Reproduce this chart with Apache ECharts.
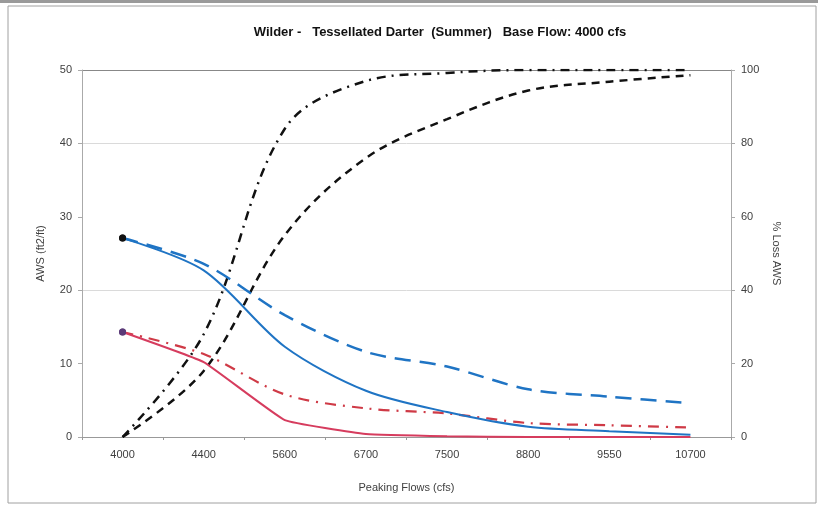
<!DOCTYPE html>
<html>
<head>
<meta charset="utf-8">
<script src="https://cdn.jsdelivr.net/npm/echarts@6/dist/echarts.min.js"></script>
<style>html,body{margin:0;padding:0;background:#fff;}#c{width:818px;height:506px;}</style>
</head>
<body>
<div id="c"></div>
<script>
var categories = ['4000','4400','5600','6700','7500','8800','9550','10700'];
var awsA = [27.1, 22.7, 12.3, 6.3, 3.4, 1.4, 0.8, 0.3];       // blue solid
var awsB = [27.1, 23.6, 16.6, 11.6, 9.6, 6.5, 5.5, 4.6];      // blue dashed
var awsC = [14.3, 10.2, 2.3, 0.4, 0.1, 0.0, 0.0, 0.0];        // red solid
var awsD = [14.3, 11.3, 5.8, 3.9, 3.2, 1.9, 1.6, 1.3];        // red dash-dot
var lossA = [0, 28, 84, 97, 99.2, 100, 100, 100];             // black dash-dot
var lossB = [0, 18, 55, 76, 86.6, 94.4, 96.8, 98.6];          // black dashed
var leftTicks = [0, 10, 20, 30, 40, 50];
var rightTicks = [0, 20, 40, 60, 80, 100];

var chart = echarts.init(document.getElementById('c'), null, {renderer: 'canvas'});
var FONT = 'Liberation Sans, Arial, sans-serif';
var axisText = {color: '#404040', fontSize: 11, fontFamily: FONT};
function firstDot(v, p) { return p.dataIndex === 0 ? 7 : 0; }
function mk(data, color, dotColor, type, width, yIdx, smooth, dot) {
  return {
    type: 'line', data: data, yAxisIndex: yIdx, smooth: smooth,
    symbol: dot ? 'circle' : 'none', symbolSize: firstDot, showSymbol: dot,
    itemStyle: {color: dotColor}, lineStyle: {color: color, width: width, type: type},
    silent: true, animation: false, z: 3
  };
}
chart.setOption({
  animation: false,
  backgroundColor: '#fff',
  title: {
    text: 'Wilder -   Tessellated Darter  (Summer)   Base Flow: 4000 cfs',
    left: 435, top: 21, textAlign: 'center',
    textStyle: {fontSize: 13, fontWeight: 'bold', color: '#111', fontFamily: FONT}
  },
  grid: {left: 82, right: 87, top: 70, bottom: 69},
  xAxis: {
    type: 'category', data: categories, boundaryGap: true,
    name: 'Peaking Flows (cfs)', nameLocation: 'middle', nameGap: 45,
    nameTextStyle: {color: '#404040', fontSize: 11, fontFamily: FONT},
    axisLine: {lineStyle: {color: '#999'}},
    axisTick: {show: true, length: 3, lineStyle: {color: '#999'}},
    axisLabel: Object.assign({margin: 12}, axisText),
    splitLine: {show: false}
  },
  yAxis: [{
    type: 'value', min: leftTicks[0], max: leftTicks[leftTicks.length - 1], interval: 10,
    name: 'AWS (ft2/ft)', nameLocation: 'middle', nameGap: 36, nameRotate: 90,
    nameTextStyle: {color: '#404040', fontSize: 11, fontFamily: FONT},
    axisLine: {show: true, lineStyle: {color: '#aaa'}},
    axisTick: {show: true, length: 4, lineStyle: {color: '#aaa'}},
    axisLabel: Object.assign({margin: 10}, axisText),
    splitLine: {show: true, lineStyle: {color: ['rgba(0,0,0,0)', 'rgba(0,0,0,0)', '#dadada', 'rgba(0,0,0,0)', '#dadada', '#888'], width: 1}}
  }, {
    type: 'value', min: rightTicks[0], max: rightTicks[rightTicks.length - 1], interval: 20,
    name: '% Loss AWS', nameLocation: 'middle', nameGap: 40, nameRotate: -90,
    nameTextStyle: {color: '#404040', fontSize: 11, fontFamily: FONT},
    axisLine: {show: true, lineStyle: {color: '#aaa'}},
    axisTick: {show: true, length: 4, lineStyle: {color: '#aaa'}},
    axisLabel: Object.assign({margin: 10}, axisText),
    splitLine: {show: false}
  }],
  graphic: [
    {type: 'rect', shape: {x: 0, y: 0, width: 818, height: 3}, style: {fill: '#9a9a9a'}, silent: true},
    {type: 'rect', shape: {x: 8, y: 6, width: 808, height: 497}, style: {fill: 'none', stroke: '#a0a0a0', lineWidth: 1}, silent: true, z: -1}
  ],
  series: [
    mk(lossA, '#111', '#111', [9, 6, 2, 6], 2.5, 1, 0.35, false),
    mk(lossB, '#111', '#111', [8, 6], 2.5, 1, 0.35, false),
    mk(awsB, '#1f74c4', '#111', [16, 9], 2.5, 0, 0.3, true),
    mk(awsD, '#cf3a46', '#5b3a78', [11, 7, 2, 7], 2.2, 0, 0.3, true),
    mk(awsC, '#d63c5e', '#5b3a78', 'solid', 2, 0, 0.1, true),
    mk(awsA, '#1f74c4', '#111', 'solid', 2, 0, 0.3, true)
  ]
});
</script>
</body>
</html>
